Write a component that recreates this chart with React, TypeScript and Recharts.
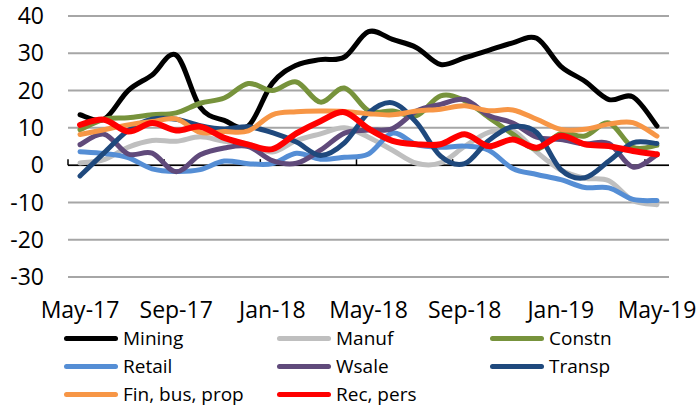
import React from 'react';
import { LineChart, Line, XAxis, YAxis, CartesianGrid, ReferenceLine, Legend } from 'recharts';

const months = ['May-17','Jun-17','Jul-17','Aug-17','Sep-17','Oct-17','Nov-17','Dec-17','Jan-18','Feb-18','Mar-18','Apr-18','May-18','Jun-18','Jul-18','Aug-18','Sep-18','Oct-18','Nov-18','Dec-18','Jan-19','Feb-19','Mar-19','Apr-19','May-19'];
const mining = [13.5, 12.3, 20, 24.2, 29.5, 15.5, 12, 10.5, 22, 26.8, 28.3, 29, 35.8, 33.7, 31.5, 27, 28.8, 30.8, 32.8, 34, 26.5, 22.5, 17.6, 18.3, 10.5];
const manuf = [0.6, 1.5, 4.8, 6.6, 6.4, 7.6, 6.4, 5.7, 3.5, 6.6, 8.4, 10, 7.5, 4, 0.5, 0.6, 5, 8.8, 9.3, 3.5, -1.3, -3.5, -4.2, -9.5, -10.6];
const constn = [9.5, 12.3, 12.7, 13.5, 14, 16.6, 18, 21.9, 20, 22.3, 16.9, 20.7, 14.6, 14.5, 13.3, 18.6, 17.3, 12.8, 8.3, 4.3, 8.5, 7.8, 11.3, 4.8, 5.3];
const retail = [3.6, 3.1, 2, -1, -1.7, -1.2, 1.1, 0.4, 0.4, 3.2, 1.6, 2.1, 3, 8.6, 5.5, 4.8, 5.1, 4, -0.9, -2.5, -3.9, -6, -6.1, -9.2, -9.5];
const wsale = [5.5, 8.3, 3, 3.2, -1.8, 2.8, 4.6, 5, 1.2, 0.5, 4, 8.6, 9.4, 9.8, 14.5, 16.3, 17.6, 13.3, 11.3, 7.5, 6.9, 5.7, 5.8, -0.5, 2.8];
const transp = [-2.9, 3.3, 9.3, 12.3, 12.3, 10.6, 9.7, 10.3, 8.7, 6.2, 2.6, 6, 14, 16.7, 11.4, 2.4, 0.4, 6.6, 10.3, 8.7, -1.2, -3.4, 1.1, 6, 5.8];
const finBus = [8.2, 9.5, 10.8, 11.7, 12.4, 8.8, 9, 9.2, 13.5, 14.3, 14.5, 14.4, 13.8, 13.5, 14.5, 15, 15.9, 14.6, 14.8, 12.3, 9.6, 9.6, 11, 11.4, 7.8];
const recPers = [10.8, 12.2, 9, 11.3, 9.3, 10.3, 7.3, 5.5, 4.3, 8.5, 11.8, 14.2, 9.8, 6.5, 5.6, 5.6, 8.3, 5.1, 6.9, 4.7, 7.9, 5.6, 5.1, 3.8, 2.9];

const yTicks = [-30, -20, -10, 0, 10, 20, 30, 40];
const xTicks = [0, 4, 8, 12, 16, 20, 24];
const boundaryTicks = [-0.5, 3.5, 7.5, 11.5, 15.5, 19.5, 23.5];

const series = [
  { key: 'Mining', values: mining, color: '#000000', width: 5 },
  { key: 'Manuf', values: manuf, color: '#BFBFBF', width: 5 },
  { key: 'Constn', values: constn, color: '#77933C', width: 5 },
  { key: 'Retail', values: retail, color: '#558ED5', width: 5 },
  { key: 'Wsale', values: wsale, color: '#604A7B', width: 5 },
  { key: 'Transp', values: transp, color: '#1F497D', width: 5 },
  { key: 'Fin, bus, prop', values: finBus, color: '#F79646', width: 5 },
  { key: 'Rec, pers', values: recPers, color: '#FF0000', width: 6 },
];
const seriesOrder = series.map((s) => s.key);

const data = months.map((m, i) => {
  const row: Record<string, any> = { i, month: m };
  series.forEach((s) => { row[s.key] = s.values[i]; });
  return row;
});

function catmullRom(context: any) {
  let pts: number[][] = [];
  return {
    areaStart() {},
    areaEnd() {},
    lineStart() { pts = []; },
    point(x: number, y: number) { pts.push([+x, +y]); },
    lineEnd() {
      const n = pts.length;
      if (!n) return;
      context.moveTo(pts[0][0], pts[0][1]);
      const t = 1 / 6;
      for (let k = 0; k < n - 1; k++) {
        const p0 = pts[Math.max(k - 1, 0)];
        const p1 = pts[k];
        const p2 = pts[k + 1];
        const p3 = pts[Math.min(k + 2, n - 1)];
        context.bezierCurveTo(
          p1[0] + (p2[0] - p0[0]) * t, p1[1] + (p2[1] - p0[1]) * t,
          p2[0] - (p3[0] - p1[0]) * t, p2[1] - (p3[1] - p1[1]) * t,
          p2[0], p2[1]
        );
      }
    },
  };
}

const FONT = '"Open Sans", sans-serif';

const renderLegend = (props: any) => {
  const payload = [...(props.payload || [])].sort(
    (a: any, b: any) => seriesOrder.indexOf(a.value) - seriesOrder.indexOf(b.value)
  );
  return (
    <div style={{ display: 'grid', gridTemplateColumns: '213px 213px 200px', rowGap: 0, paddingLeft: 64, fontFamily: FONT }}>
      {payload.map((p: any) => (
        <div key={p.value} style={{ display: 'flex', alignItems: 'center', height: 28 }}>
          <span style={{ display: 'inline-block', width: 54, height: 5, borderRadius: 3, background: p.color }} />
          <span style={{ marginLeft: 5, fontSize: 19, color: '#000', lineHeight: '28px' }}>{p.value}</span>
        </div>
      ))}
    </div>
  );
};

export default function App() {
  return (
    <div style={{ position: 'absolute', left: 0, top: 0, width: 698, height: 408, background: '#fff' }}>
      <LineChart width={698} height={408} data={data} margin={{ top: 16, right: 29, left: 0, bottom: 91 }}>
        <CartesianGrid horizontal vertical={false} stroke="#A6A6A6" strokeWidth={2} />
        <XAxis
          dataKey="i"
          type="number"
          domain={[-0.5, 24.5]}
          ticks={xTicks}
          tickFormatter={(v: number) => months[v]}
          axisLine={false}
          tickLine={false}
          tickSize={0}
          tickMargin={25}
          height={40}
          interval={0}
          tick={{ fill: '#000', fontSize: 23, fontFamily: FONT }}
        />
        <YAxis
          type="number"
          domain={[-30, 40]}
          ticks={yTicks}
          axisLine={false}
          tickLine={false}
          tickSize={0}
          tickMargin={24}
          width={68}
          interval={0}
          tick={{ fill: '#000', fontSize: 23, fontFamily: FONT }}
        />
        <ReferenceLine y={0} stroke="#000" strokeWidth={1.5} />
        {boundaryTicks.map((b) => (
          <ReferenceLine key={b} segment={[{ x: b, y: 0 }, { x: b, y: 1.6 }]} stroke="#000" strokeWidth={1.5} />
        ))}
        {series.map((s) => (
          <Line
            key={s.key}
            dataKey={s.key}
            name={s.key}
            stroke={s.color}
            strokeWidth={s.width}
            dot={false}
            activeDot={false}
            type={catmullRom as any}
            strokeLinecap="round"
            strokeLinejoin="round"
            isAnimationActive={false}
          />
        ))}
        <Legend
          layout="horizontal"
          verticalAlign="middle"
          align="center"
          content={renderLegend}
          wrapperStyle={{ top: 324, left: 0, width: 698 }}
        />
      </LineChart>
    </div>
  );
}
